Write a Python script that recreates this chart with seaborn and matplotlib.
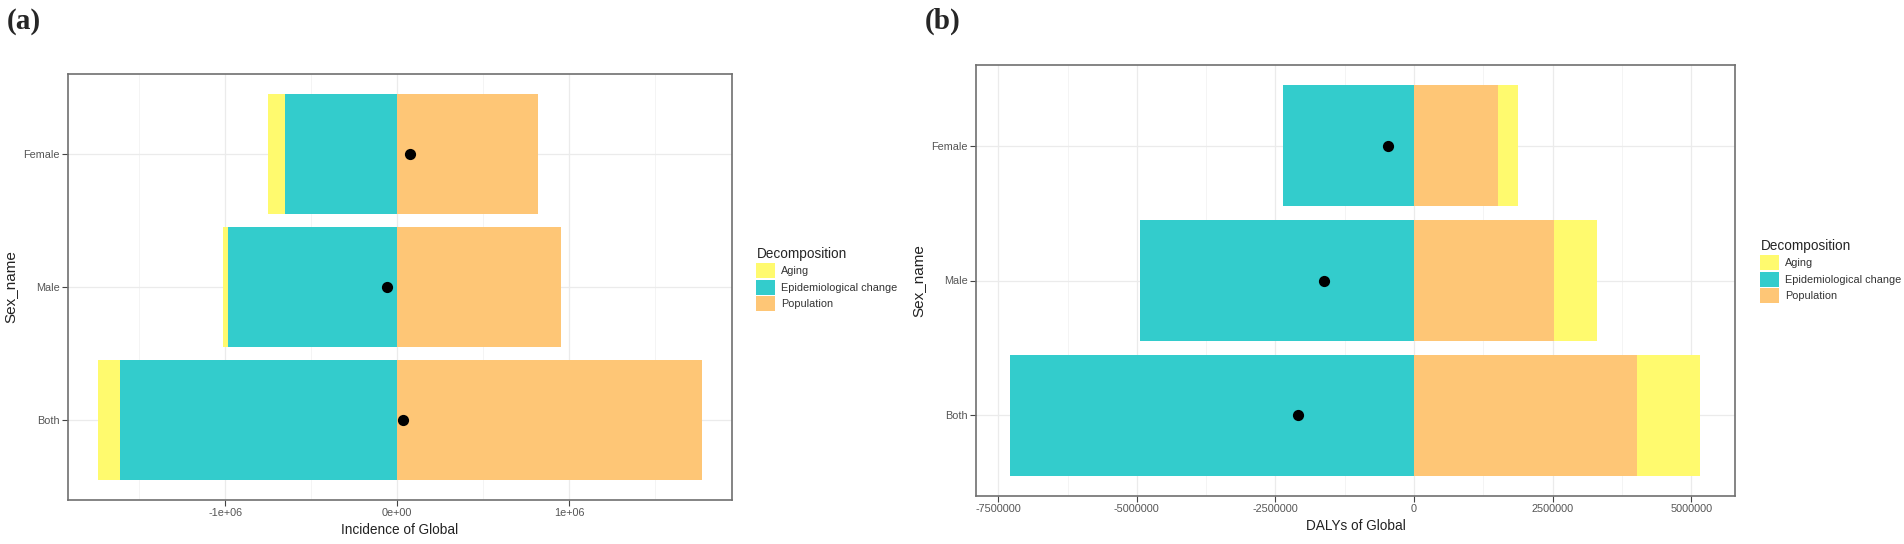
import matplotlib
matplotlib.use("Agg")
import matplotlib.pyplot as plt
from matplotlib.patches import Patch
from matplotlib.ticker import MultipleLocator, FuncFormatter
import numpy as np
import pandas as pd
import seaborn as sns

# ── Data ──────────────────────────────────────────────────────────────────────
sexes = ["Both", "Male", "Female"]
components = ["Aging", "Epidemiological change", "Population"]

# (a) Incidence of Global
inc_aging = [-0.129e6, -0.030e6, -0.097e6]
inc_epi = [-1.609e6, -0.983e6, -0.652e6]
inc_pop = [1.772e6, 0.952e6, 0.820e6]
inc_overall = [0.034e6, -0.059e6, 0.073e6]

# (b) DALYs of Global
daly_aging = [1.138e6, 0.777e6, 0.372e6]
daly_epi = [-7.279e6, -4.936e6, -2.364e6]
daly_pop = [4.028e6, 2.517e6, 1.511e6]
daly_overall = [-2.101e6, -1.631e6, -0.471e6]

COLORS = {"Aging": "#FFFA6E", "Epidemiological change": "#33CCCC", "Population": "#FEC676"}
STACK_ORDER = ["Population", "Epidemiological change", "Aging"]  # from zero outward

sns.set_theme(style="white")
plt.rcParams["font.family"] = ["Liberation Sans", "DejaVu Sans"]

W, H = 1904, 544
fig = plt.figure(figsize=(W / 100, H / 100), dpi=100)


def px_axes(left, top, right, bottom):
    return fig.add_axes([left / W, 1 - bottom / H, (right - left) / W, (bottom - top) / H])


def decomposition_panel(ax, aging, epi, pop, overall, xlabel, major):
    df = pd.DataFrame({"Sex_name": sexes, "Aging": aging,
                       "Epidemiological change": epi, "Population": pop})
    ypos = np.arange(len(sexes))
    pos_acc = np.zeros(len(sexes))
    neg_acc = np.zeros(len(sexes))
    # stacked bars, positives and negatives piled separately from zero outward
    for comp in STACK_ORDER:
        vals = df[comp].to_numpy()
        left = np.where(vals >= 0, pos_acc, neg_acc)
        ax.barh(ypos, vals, left=left, height=0.9, color=COLORS[comp],
                linewidth=0, zorder=2)
        pos_acc += np.clip(vals, 0, None)
        neg_acc += np.clip(vals, None, 0)

    pts = pd.DataFrame({"Sex_name": ypos, "overall": overall})
    sns.scatterplot(data=pts, x="overall", y="Sex_name", color="black", s=65,
                    linewidth=0, zorder=3, ax=ax, legend=False)

    lo = min(neg_acc.min(), min(overall))
    hi = max(pos_acc.max(), max(overall))
    pad = (hi - lo) * 0.05
    ax.set_xlim(lo - pad, hi + pad)
    ax.set_ylim(-0.6, len(sexes) - 0.4)

    ax.set_yticks(ypos)
    ax.set_yticklabels(sexes)
    ax.xaxis.set_major_locator(MultipleLocator(major))
    ax.xaxis.set_minor_locator(MultipleLocator(major / 2))
    ax.grid(which="major", color="#EBEBEB", linewidth=0.9, zorder=0)
    ax.grid(which="minor", axis="x", color="#F2F2F2", linewidth=0.6, zorder=0)
    ax.set_axisbelow(True)

    for sp in ax.spines.values():
        sp.set_color("#707070")
        sp.set_linewidth(1.2)
    ax.tick_params(which="major", length=4, width=0.8, color="#444444",
                   labelsize=7.8, labelcolor="#555555", pad=2,
                   left=True, bottom=True)
    ax.tick_params(which="minor", length=0)
    ax.set_xlabel(xlabel, fontsize=9.8, color="#222222", labelpad=3)
    ax.set_ylabel("Sex_name", fontsize=11, color="#222222", labelpad=4)


ax_a = px_axes(68, 74, 732, 500)
decomposition_panel(ax_a, inc_aging, inc_epi, inc_pop, inc_overall,
                    "Incidence of Global", 1e6)
ax_a.xaxis.set_major_formatter(
    FuncFormatter(lambda v, _: "0e+00" if v == 0 else f"{v:.0e}"))

ax_b = px_axes(976, 65, 1735, 496)
decomposition_panel(ax_b, daly_aging, daly_epi, daly_pop, daly_overall,
                    "DALYs of Global", 2.5e6)
ax_b.xaxis.set_major_formatter(FuncFormatter(lambda v, _: f"{v:.0f}"))

handles = [Patch(facecolor=COLORS[c], edgecolor="none", label=c) for c in components]
for ax, lx, ty in [(ax_a, 751, 242), (ax_b, 1755, 234)]:
    leg = ax.legend(handles=handles, title="Decomposition", loc="upper left",
                    bbox_to_anchor=(lx / W, 1 - ty / H), bbox_transform=fig.transFigure,
                    frameon=False, fontsize=7.8, title_fontsize=9.8,
                    handlelength=1.7, handleheight=1.75, labelspacing=0.15,
                    handletextpad=0.55, borderpad=0, alignment="left")
    for t in leg.get_texts():
        t.set_color("#333333")

fig.text(7 / W, 1 - 8 / H, "(a)", fontsize=21, fontweight="bold",
         family=["Liberation Serif", "DejaVu Serif"], va="top", ha="left")
fig.text(925 / W, 1 - 8 / H, "(b)", fontsize=21, fontweight="bold",
         family=["Liberation Serif", "DejaVu Serif"], va="top", ha="left")

fig.savefig("out.png", dpi=100, facecolor="white")
